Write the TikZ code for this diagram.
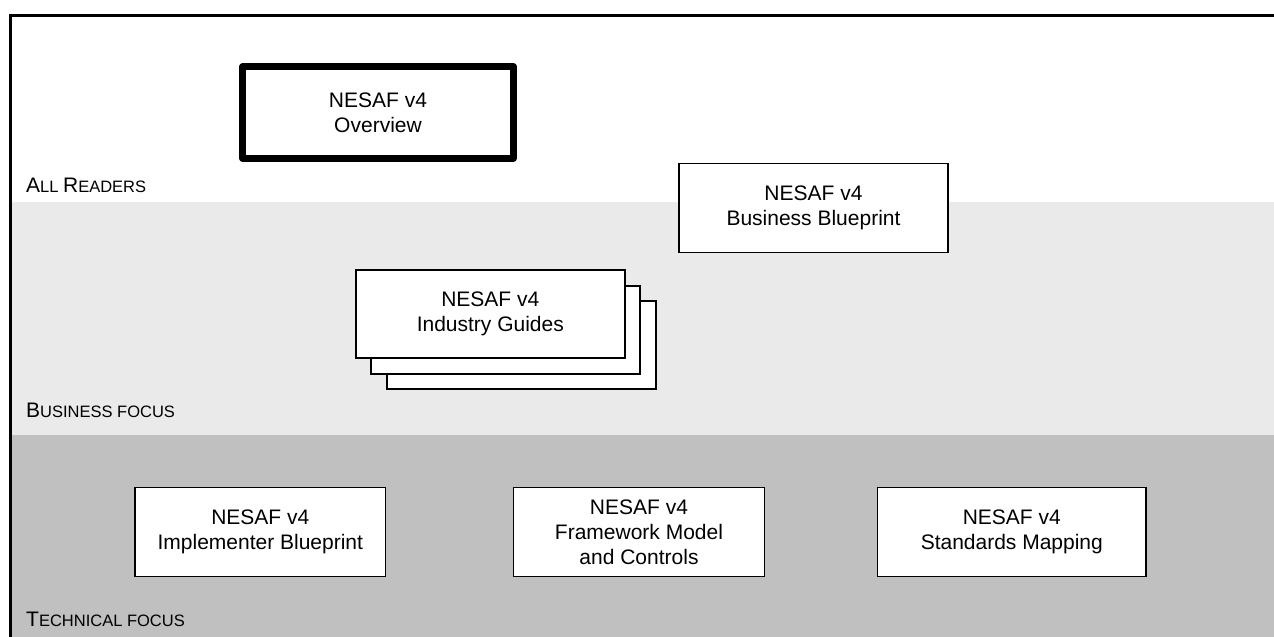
\documentclass[tikz,border=0pt]{standalone}
\usepackage{fontspec}
\setmainfont{Liberation Sans}
\definecolor{bandlight}{HTML}{EAEAEA}
\definecolor{banddark}{HTML}{C0C0C0}
\newcommand\boxfont{\fontsize{21}{25}\selectfont}
\newcommand\lblbig[1]{{\fontsize{21}{25}\selectfont #1}}
\newcommand\lblsmall[1]{{\fontsize{16.5}{25}\selectfont #1}}
\tikzset{
  docbox/.style={draw=black, fill=white, line width=1.3pt, align=center,
    inner sep=0pt, font=\boxfont, text=black},
  keybox/.style={docbox, line width=7pt, line join=round},
  stackbox/.style={docbox, line width=2pt},
  lanelabel/.style={anchor=base west, inner sep=0pt, text=black},
}
\begin{document}
\begin{tikzpicture}[x=1pt,y=-1pt]
\useasboundingbox (0,0) rectangle (1274,637);
% bands
\fill[white] (12,16) rectangle (1274,201.5);
\fill[bandlight] (12,201.5) rectangle (1274,435);
\fill[banddark] (12,435) rectangle (1274,637);
% frame
\draw[line width=3pt, line cap=rect, line join=miter] (10.7,637) -- (10.7,15) -- (1274,15);
% lane labels
\node[lanelabel] (lblAll) at (26,192.7) {\lblbig{A}\lblsmall{LL }\lblbig{R}\lblsmall{EADERS}};
\node[lanelabel] (lblBus) at (26,417.3) {\lblbig{B}\lblsmall{USINESS FOCUS}};
\node[lanelabel] (lblTech) at (26,626) {\lblbig{T}\lblsmall{ECHNICAL FOCUS}};
% boxes
\node[keybox, minimum width=270.4pt, minimum height=91.4pt] (overview) at (378,112.5) {NESAF v4\\Overview};
\node[docbox, minimum width=269pt, minimum height=89pt] (business) at (813.5,207.7) {NESAF v4\\Business Blueprint};
\node[stackbox, minimum width=268.7pt, minimum height=88pt] (guides3) at (521.3,344.9) {};
\node[stackbox, minimum width=268.7pt, minimum height=88pt] (guides2) at (505.8,329.6) {};
\node[stackbox, minimum width=268.7pt, minimum height=88pt] (guides) at (490.3,314.3) {NESAF v4\\Industry Guides};
\node[docbox, minimum width=250.5pt, minimum height=89pt] (implementer) at (260.3,531.8) {NESAF v4\\Implementer Blueprint};
\node[docbox, minimum width=251pt, minimum height=89pt] (framework) at (639,531.8) {NESAF v4\\Framework Model\\and Controls};
\node[docbox, minimum width=268.3pt, minimum height=89pt] (standards) at (1011.8,531.8) {NESAF v4\\Standards Mapping};
\end{tikzpicture}
\end{document}
